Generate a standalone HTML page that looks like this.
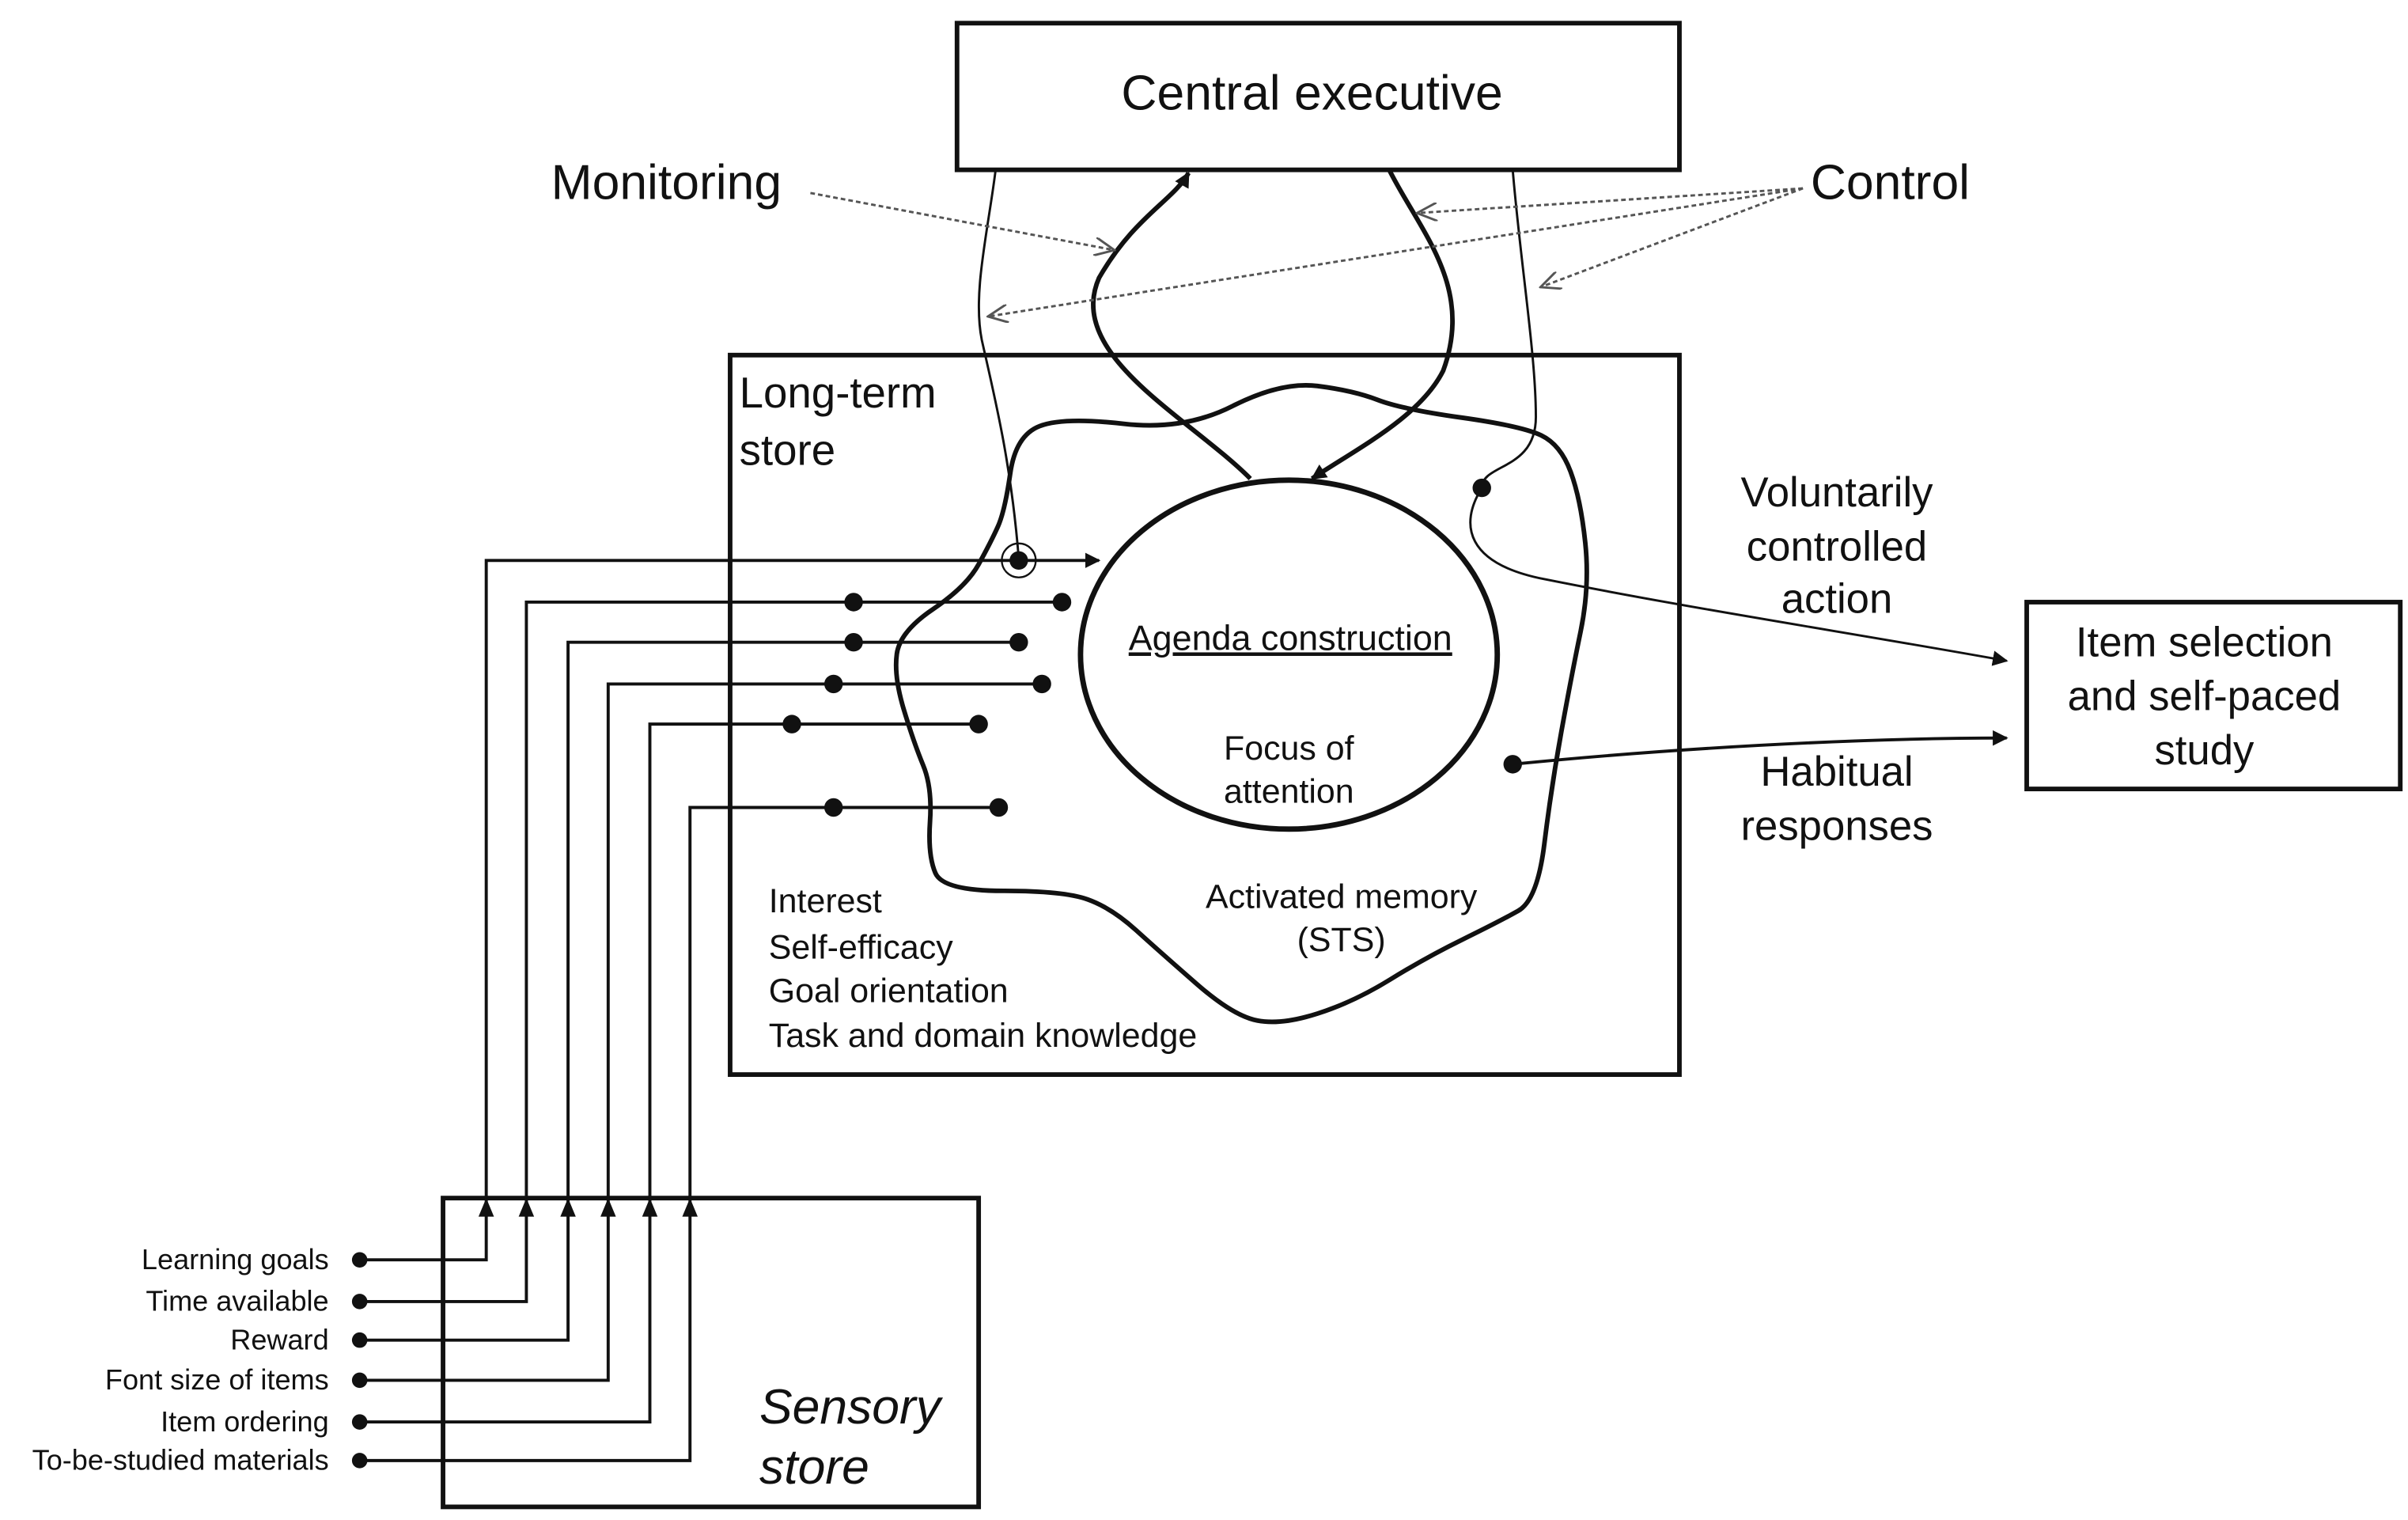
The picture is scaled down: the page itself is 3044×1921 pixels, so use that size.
<!DOCTYPE html>
<html><head><meta charset="utf-8"><style>
html,body{margin:0;padding:0;background:#fff;}
svg{display:block;}
text{font-family:"Liberation Sans",sans-serif;fill:#111;}
</style></head><body>
<svg width="3044" height="1921" viewBox="0 0 1560 984.5" xmlns="http://www.w3.org/2000/svg">
<defs>
<marker id="a" markerWidth="10" markerHeight="10" refX="9" refY="5" orient="auto" markerUnits="userSpaceOnUse"><path d="M0,0 L10,5 L0,10 Z" fill="#111"/></marker>
<marker id="ag" markerWidth="14" markerHeight="12" refX="13" refY="6" orient="auto" markerUnits="userSpaceOnUse"><path d="M0,0 L13,6 L0,12" fill="none" stroke="#555" stroke-width="1.5"/></marker>
</defs>
<g fill="none" stroke="#111">
<rect x="620" y="15" width="468" height="95" stroke-width="3"/>
<rect x="473" y="230" width="615" height="466" stroke-width="3"/>
<rect x="1313" y="390" width="242" height="121" stroke-width="3"/>
<rect x="287" y="776" width="347" height="200" stroke-width="3"/>
<ellipse cx="835" cy="424" rx="135" ry="113" stroke-width="3.5"/>
<path d="M654.5,306.5 Q658,282 673.5,276 Q689,270 728,274.5 Q767,279 798.5,263 Q830,247 853.5,250 Q877,253 892.5,259 Q908,265 947,270.5 Q986,276 998.5,282 Q1011,288 1017.5,305.5 Q1024,323 1027,351.5 Q1030,380 1024,409 Q1018,438 1011.5,474 Q1005,510 1000.5,546.5 Q996,583 983.5,590 Q971,597 947.5,608.5 Q924,620 900.5,634.5 Q877,649 853.5,656.5 Q830,664 814.5,661 Q799,658 775.5,637.5 Q752,617 736,602.5 Q720,588 704.5,582.5 Q689,577 650,577 Q611,577 606,565.5 Q601,554 602.5,532 Q604,510 598,495.5 Q592,481 585.5,459.5 Q579,438 581,423.5 Q583,409 604.5,394.5 Q626,380 634,365.5 Q642,351 646.5,341 Q651,331 654.5,306.5 Z" stroke-width="3"/>
<path d="M645,110 C640,150 630,190 636,220 C645,260 655,300 660,362" stroke-width="1.5"/>
<path d="M980,110 C985,170 995,230 995,270 C995,305 960,300 960,316" stroke-width="1.5"/>
<path d="M960,316 C945,340 950,365 1000,375 C1100,395 1200,410 1300,428" stroke-width="1.5" marker-end="url(#a)"/>
<path d="M810,310 C770,270 690,230 712,180 C735,140 760,130 770,112" stroke-width="3" marker-end="url(#a)"/>
<path d="M900,110 C920,150 955,185 935,240 C920,270 880,290 850,310" stroke-width="3" marker-end="url(#a)"/>
<path d="M980,495 C1080,485 1200,478 1300,478" stroke-width="2" marker-end="url(#a)"/>
<g stroke="#555" stroke-width="1.5" stroke-dasharray="3,2">
<path d="M525,125 L722,162" marker-end="url(#ag)"/>
<path d="M1168,122 L918,138" marker-end="url(#ag)"/>
<path d="M1168,122 L640,205" marker-end="url(#ag)"/>
<path d="M1168,122 L998,186" marker-end="url(#ag)"/>
</g>
<g stroke-width="2">
<path d="M233,816 H315 V363 H712" marker-end="url(#a)"/>
<path d="M233,843 H341 V390 H688"/>
<path d="M233,868 H368 V416 H660"/>
<path d="M233,894 H394 V443 H675"/>
<path d="M233,921 H421 V469 H634"/>
<path d="M233,946 H447 V523 H647"/>
</g>
<circle cx="660" cy="363" r="11" stroke-width="1.2"/>
</g>
<g fill="#111">
<path d="M315,776 l-5,12 h10z M341,776 l-5,12 h10z M368,776 l-5,12 h10z M394,776 l-5,12 h10z M421,776 l-5,12 h10z M447,776 l-5,12 h10z"/>
<circle cx="233" cy="816" r="5"/><circle cx="233" cy="843" r="5"/><circle cx="233" cy="868" r="5"/><circle cx="233" cy="894" r="5"/><circle cx="233" cy="921" r="5"/><circle cx="233" cy="946" r="5"/>
<circle cx="660" cy="363" r="6"/><circle cx="960" cy="316" r="6"/><circle cx="980" cy="495" r="6"/>
<circle cx="553" cy="390" r="6"/><circle cx="688" cy="390" r="6"/>
<circle cx="553" cy="416" r="6"/><circle cx="660" cy="416" r="6"/>
<circle cx="540" cy="443" r="6"/><circle cx="675" cy="443" r="6"/>
<circle cx="513" cy="469" r="6"/><circle cx="634" cy="469" r="6"/>
<circle cx="540" cy="523" r="6"/><circle cx="647" cy="523" r="6"/>
</g>
<text x="850" y="71" font-size="32" text-anchor="middle">Central executive</text>
<text x="357" y="129" font-size="32">Monitoring</text>
<text x="1173" y="129" font-size="32">Control</text>
<text x="479" y="264" font-size="28">Long-term</text>
<text x="479" y="301" font-size="28">store</text>
<g font-size="27" text-anchor="middle">
<text x="1190" y="328">Voluntarily</text><text x="1190" y="363">controlled</text><text x="1190" y="397">action</text>
<text x="1190" y="509">Habitual</text><text x="1190" y="544">responses</text>
<text x="1428" y="425">Item selection</text><text x="1428" y="460">and self-paced</text><text x="1428" y="495">study</text>
</g>
<text x="836" y="421" font-size="23" text-anchor="middle" text-decoration="underline">Agenda construction</text>
<g font-size="22" text-anchor="middle">
<text x="835" y="492">Focus of</text><text x="835" y="520">attention</text>
<text x="869" y="588">Activated memory</text><text x="869" y="616">(STS)</text>
</g>
<g font-size="22">
<text x="498" y="591">Interest</text><text x="498" y="621">Self-efficacy</text><text x="498" y="649">Goal orientation</text><text x="498" y="678">Task and domain knowledge</text>
</g>
<g font-size="18.5" text-anchor="end">
<text x="213" y="822">Learning goals</text><text x="213" y="849">Time available</text><text x="213" y="874">Reward</text><text x="213" y="900">Font size of items</text><text x="213" y="927">Item ordering</text><text x="213" y="952">To-be-studied materials</text>
</g>
<text x="492" y="922" font-size="32" font-style="italic">Sensory</text>
<text x="492" y="961" font-size="32" font-style="italic">store</text>
</svg>
</body></html>
